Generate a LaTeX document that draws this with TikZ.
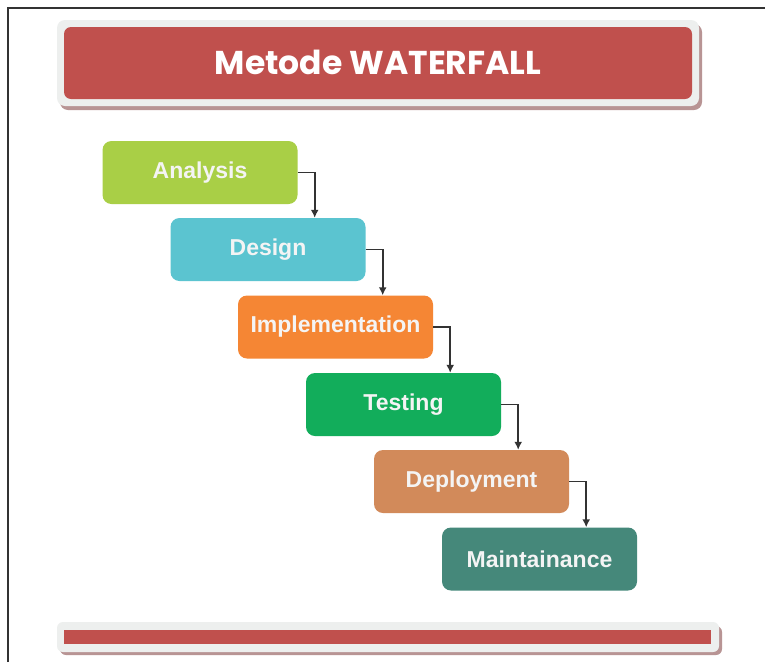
\documentclass[tikz,border=0pt]{standalone}
\usepackage{fontspec}
\setmainfont{Liberation Sans}
\newfontfamily\titlefont{Poppins}
\usetikzlibrary{arrows.meta}
\definecolor{redbar}{HTML}{C0504D}
\definecolor{frameGrey}{HTML}{EDEFEE}
\definecolor{shadowRed}{HTML}{B89494}
\definecolor{cAnalysis}{HTML}{A9CF46}
\definecolor{cDesign}{HTML}{5BC4D0}
\definecolor{cImpl}{HTML}{F58634}
\definecolor{cTest}{HTML}{12AD5B}
\definecolor{cDeploy}{HTML}{D28A5A}
\definecolor{cMaint}{HTML}{45887A}
\definecolor{lineDark}{HTML}{333333}
\definecolor{txtWhite}{HTML}{F4F4F4}
\tikzset{
  phase/.style={rounded corners=9pt, minimum width=195pt, minimum height=63pt,
    inner sep=0pt, text=txtWhite, font=\fontsize{23}{26}\selectfont\bfseries},
  conn/.style={draw=lineDark, line width=1.8pt, -{Latex[length=8pt,width=8pt]}},
}
\begin{document}
\begin{tikzpicture}[x=1pt,y=-1pt]
\useasboundingbox (0,0) rectangle (765,662);
\fill[white] (0,0) rectangle (765,662);
% outer frame lines
\draw[lineDark, line width=1.5pt] (8,662) -- (8,8) -- (765,8);
% title bar
\fill[shadowRed, rounded corners=8pt] (60,24) rectangle (702,110);
\fill[frameGrey, rounded corners=8pt] (57,20) rectangle (699,106);
\fill[redbar, rounded corners=7pt] (64,27) rectangle (692,99);
\node[text=white, font=\titlefont\fontsize{33}{36}\selectfont\bfseries] (title) at (378,62) {Metode WATERFALL};
% phases
\node[phase, fill=cAnalysis] (a) at (200,172.5) {Analysis};
\node[phase, fill=cDesign]   (d) at (268,249.5) {Design};
\node[phase, fill=cImpl]     (i) at (335.5,327) {Implementation};
\node[phase, fill=cTest]     (t) at (403.5,404.5) {Testing};
\node[phase, fill=cDeploy]   (p) at (471.5,481.5) {Deployment};
\node[phase, fill=cMaint]    (m) at (539.5,559) {Maintainance};
% connectors
\foreach \s/\e in {a/d,d/i,i/t,t/p,p/m}{
  \coordinate (k\s) at ([xshift=17pt]\s.east);
  \draw[conn] (\s.east) -- (k\s) -- (k\s |- \e.north);
}
% bottom bar
\fill[shadowRed, rounded corners=6pt] (60,626) rectangle (722,655);
\fill[frameGrey, rounded corners=6pt] (57,622) rectangle (719,652);
\fill[redbar] (64,630) rectangle (711,644);
\end{tikzpicture}
\end{document}
